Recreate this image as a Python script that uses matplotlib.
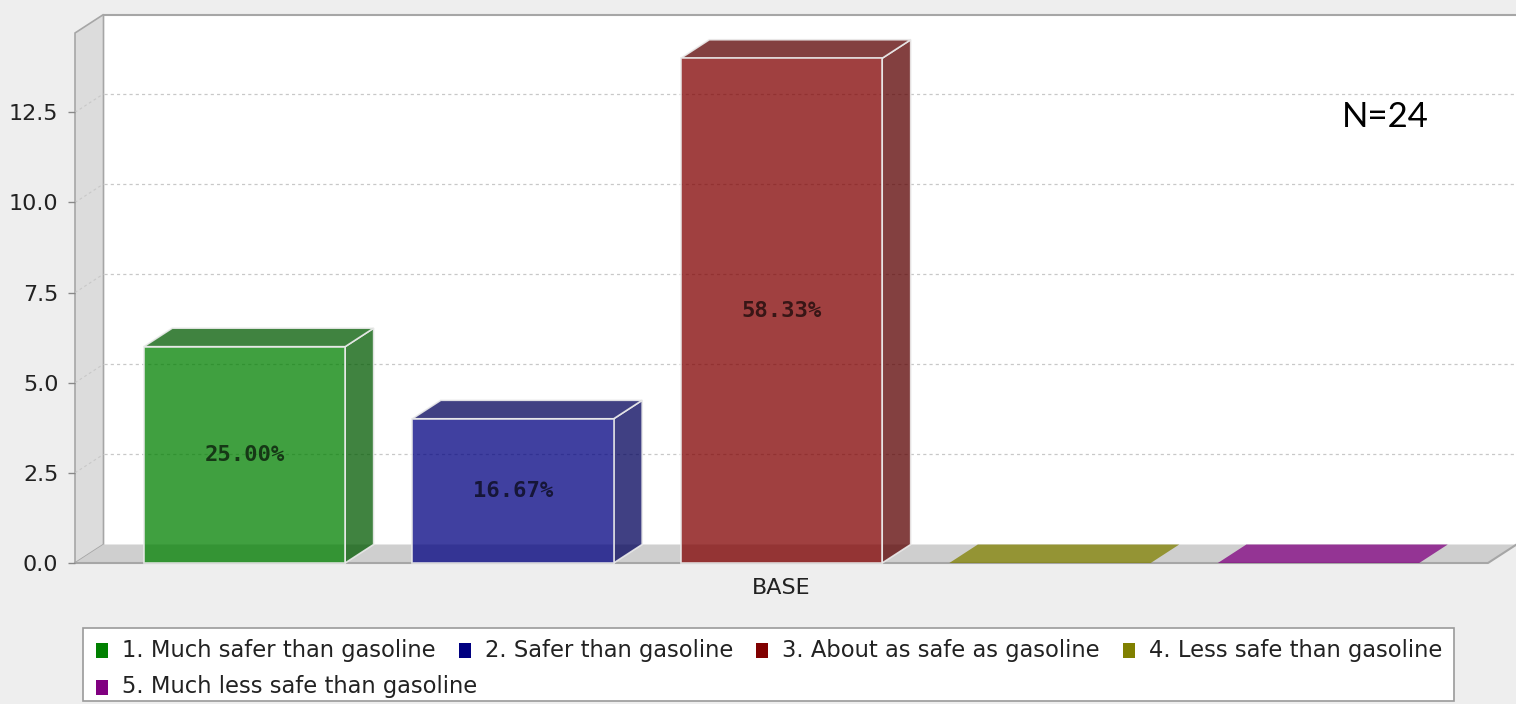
import matplotlib
matplotlib.use('Agg')
import matplotlib.pyplot as plt
from matplotlib.patches import Polygon, Rectangle
import numpy as np

# survey counts for one category, five answer options
categories = ['BASE']
series_names = ['1. Much safer than gasoline',
                '2. Safer than gasoline',
                '3. About as safe as gasoline',
                '4. Less safe than gasoline',
                '5. Much less safe than gasoline']
counts = [6, 4, 14, 0, 0]
n_total = 24
series_colors = ['#008000', '#000080', '#800000', '#808000', '#800080']
y_ticks = [0.0, 2.5, 5.0, 7.5, 10.0, 12.5]

W, H = 1516, 704
fig = plt.figure(figsize=(W / 100, H / 100), dpi=100, facecolor='#EEEEEE')

# front rectangle of the plot box (pixels)
left, right, top, bottom = 75, 1488, 33, 563
ax = fig.add_axes([left / W, 1 - bottom / H, (right - left) / W, (bottom - top) / H])
ax.patch.set_visible(False)
for s in ax.spines.values():
    s.set_visible(False)

bar_w = 0.75
x0, x1 = -0.631, len(counts) - 1 + 0.631
ymax = 14.7
ax.set_xlim(x0, x1)
ax.set_ylim(0, ymax)

# 3d depth offset, converted from pixels to data units
off_x, off_y = 28.5, 18.5
dx = off_x * (x1 - x0) / (right - left)
dy = off_y * ymax / (bottom - top)

edge = '#A6A6A6'
# back wall
ax.add_patch(Polygon([(x0 + dx, dy), (x0 + dx, ymax + dy), (x1 + dx, ymax + dy), (x1 + dx, dy)],
                     closed=True, facecolor='white', edgecolor='none', clip_on=False, zorder=0))
ax.plot([x0 + dx, x1 + dx], [ymax + dy, ymax + dy], color=edge, lw=1.5, clip_on=False, zorder=1)
# left side wall
ax.add_patch(Polygon([(x0, 0), (x0, ymax), (x0 + dx, ymax + dy), (x0 + dx, dy)],
                     closed=True, facecolor='#DCDCDC', edgecolor=edge, lw=1.2, clip_on=False, zorder=1))
# floor
ax.add_patch(Polygon([(x0, 0), (x1, 0), (x1 + dx, dy), (x0 + dx, dy)],
                     closed=True, facecolor='#CFCFCF', edgecolor='none', clip_on=False, zorder=1))
ax.plot([x0, x1, x1 + dx], [0, 0, dy], color=edge, lw=1.5, clip_on=False, zorder=1)

# gridlines on the back wall and across the side wall
for t in y_ticks[1:]:
    ax.plot([x0 + dx, x1 + dx], [t + dy, t + dy], color='#C8C8C8', lw=0.9,
            ls=(0, (2.5, 2.5)), clip_on=False, zorder=1.5)
    ax.plot([x0, x0 + dx], [t, t + dy], color='#C8C8C8', lw=0.8,
            ls=(0, (2.5, 2.5)), clip_on=False, zorder=1.5)

# bars
alpha = 0.75
for i, (v, c) in enumerate(zip(counts, series_colors)):
    base = np.array(matplotlib.colors.to_rgb(c))
    dark = base * 0.7
    l, r = i - bar_w / 2, i + bar_w / 2
    ec = (0.92, 0.92, 0.92, 0.9)
    if v == 0:
        ax.add_patch(Polygon([(l, 0), (r, 0), (r + dx, dy), (l + dx, dy)], closed=True,
                             facecolor=(*base, alpha), edgecolor='none', clip_on=False, zorder=2))
        continue
    ax.add_patch(Polygon([(r, 0), (r, v), (r + dx, v + dy), (r + dx, dy)], closed=True,
                         facecolor=(*dark, alpha), edgecolor=ec, lw=1.2, clip_on=False, zorder=2))
    ax.add_patch(Polygon([(l, v), (r, v), (r + dx, v + dy), (l + dx, v + dy)], closed=True,
                         facecolor=(*dark, alpha), edgecolor=ec, lw=1.2, clip_on=False, zorder=2))
    ax.add_patch(Rectangle((l, 0), bar_w, v, facecolor=(*base, alpha), edgecolor=ec,
                           lw=1.2, clip_on=False, zorder=3))
    shown = base * alpha + (1 - alpha)
    ax.text(i, v / 2, f'{v / n_total * 100:.2f}%', ha='center', va='center',
            fontsize=16, fontweight='bold', family='DejaVu Sans Mono',
            color=shown * 0.35, zorder=5)

ax.set_yticks(y_ticks)
ax.set_yticklabels([f'{t:.1f}' for t in y_ticks])
ax.tick_params(axis='y', length=5, width=1, color='#888888', pad=7,
               labelsize=16, labelcolor='#222222')
ax.set_xticks([(len(counts) - 1) / 2])
ax.set_xticklabels(categories)
ax.tick_params(axis='x', length=0, pad=11, labelsize=16, labelcolor='#222222')

fig.text(1385 / W, 1 - 117 / H, f'N={n_total}', ha='center', va='center',
         fontsize=25, family='Lato', color='black')

# legend laid out as a flow of items
renderer = fig.canvas.get_renderer()
rows = [[0, 1, 2, 3], [4]]
row_y = [650, 687]
box_right = 0
for r, items in enumerate(rows):
    x = 96
    for k in items:
        fig.add_artist(Rectangle((x / W, 1 - (row_y[r] + 7.5) / H), 12 / W, 15 / H,
                                 transform=fig.transFigure, facecolor=series_colors[k],
                                 edgecolor='none', zorder=3))
        t = fig.text((x + 26) / W, 1 - row_y[r] / H, series_names[k], ha='left', va='center',
                     fontsize=16.3, color='#222222', zorder=3)
        bb = t.get_window_extent(renderer)
        box_right = max(box_right, bb.x1)
        x = bb.x1 + 23
fig.add_artist(Rectangle((83 / W, 1 - 701 / H), (box_right + 12 - 83) / W, 73 / H,
                         transform=fig.transFigure, facecolor='white', edgecolor='#9A9A9A',
                         lw=1.2, zorder=2))

fig.savefig('out.png', dpi=100, facecolor=fig.get_facecolor())
